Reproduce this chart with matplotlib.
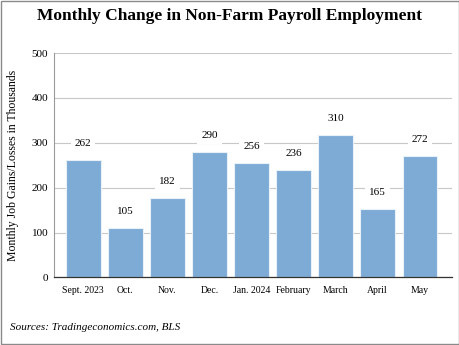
import numpy as np
import matplotlib
matplotlib.use('Agg')
import matplotlib.pyplot as plt
from matplotlib.patches import Rectangle

# months and the bar heights as drawn, plus the printed value labels
months = ['Sept. 2023', 'Oct.', 'Nov.', 'Dec.', 'Jan. 2024', 'February', 'March', 'April', 'May']
heights = [261, 109, 177, 280, 254, 239, 318, 153, 271]
labels = ['262', '105', '182', '290', '256', '236', '310', '165', '272']
yticks = [0, 100, 200, 300, 400, 500]

serif = ['Liberation Serif', 'DejaVu Serif']
plt.rcParams['font.family'] = serif

fig = plt.figure(figsize=(4.6, 3.45), dpi=100)
# thin gray frame round the whole picture
fig.patches.append(Rectangle((0.002, 0.003), 0.996, 0.994, transform=fig.transFigure,
                             fill=False, edgecolor='#8a8a8a', linewidth=1.0))
ax = fig.add_axes([0.117, 0.196, 0.866, 0.65])

x = np.arange(len(months))
ax.bar(x, heights, width=0.82, color='#7dabd6', edgecolor='#e8f0f8', linewidth=0.8, zorder=2)

for xi, h, lab in zip(x, heights, labels):
    ax.annotate(lab, (xi, h), xytext=(0, 12), textcoords='offset points',
                ha='center', va='center', fontsize=8, zorder=4,
                bbox=dict(boxstyle='square,pad=0.35', fc='white', ec='none'))

ax.set_xlim(-0.7, 8.77)
ax.set_ylim(0, 500)
ax.set_yticks(yticks)
ax.set_xticks(x)
ax.set_xticklabels(months, fontsize=7)
ax.tick_params(axis='y', length=0, pad=4, labelsize=8)
ax.tick_params(axis='x', length=0, pad=6)
ax.yaxis.grid(True, color='#c8c8c8', linewidth=0.8, zorder=0)
ax.set_axisbelow(True)
for s in ['top', 'right']:
    ax.spines[s].set_visible(False)
ax.spines['left'].set_color('#9a9a9a')
ax.spines['left'].set_linewidth(0.8)
ax.spines['bottom'].set_color('#333333')
ax.spines['bottom'].set_linewidth(0.9)

ax.set_ylabel('Monthly Job Gains/Losses in Thousands', fontsize=8.5, labelpad=9)

fig.text(0.5, 0.955, 'Monthly Change in Non-Farm Payroll Employment',
         ha='center', va='center', fontsize=12.5, fontweight='bold')
fig.text(0.022, 0.052, 'Sources: Tradingeconomics.com, BLS',
         ha='left', va='center', fontsize=8, style='italic')

fig.savefig('out.png', dpi=100)
